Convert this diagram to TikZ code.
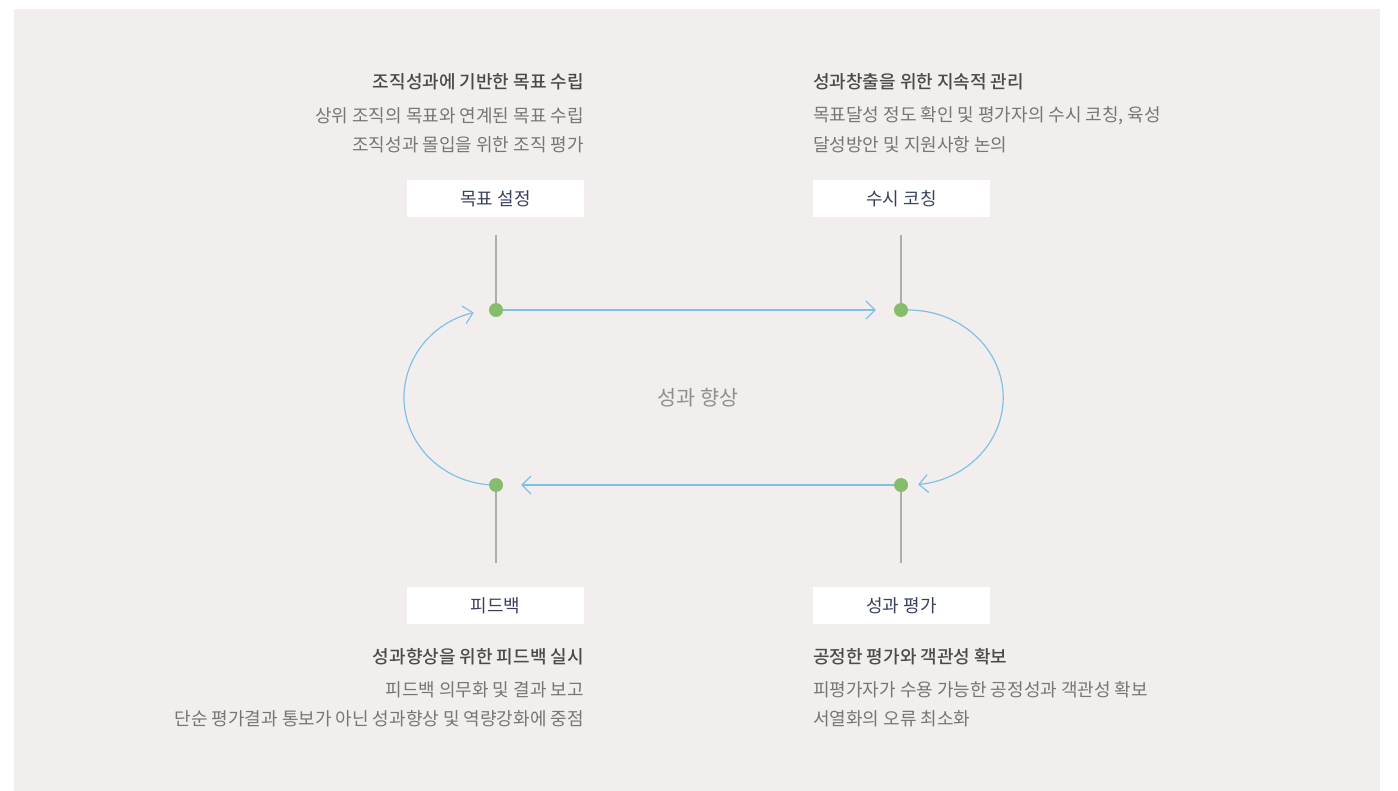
\documentclass[tikz,border=0pt]{standalone}
\usepackage{fontspec}
\newfontfamily\kr{Noto Sans CJK KR}
\newfontfamily\krmed{Noto Sans CJK KR Medium}
\usetikzlibrary{arrows.meta}
\definecolor{bgc}{HTML}{F2EEED}
\definecolor{headgray}{HTML}{4A4A4A}
\definecolor{bodygray}{HTML}{767676}
\definecolor{navy}{HTML}{39415E}
\definecolor{dotgreen}{HTML}{86BC6C}
\definecolor{flowblue}{HTML}{7FC1E4}
\definecolor{stemgray}{HTML}{ADADAD}
\definecolor{centergray}{HTML}{8F8F8F}
\pgfdeclarelayer{bglayer}
\pgfdeclarelayer{lines}
\pgfsetlayers{bglayer,lines,main}
\begin{document}
\begin{tikzpicture}[x=1pt,y=-1pt,
  bodytxt/.style={inner sep=0pt, font=\kr\fontsize{18}{22}\selectfont, text=bodygray},
  headtxt/.style={inner sep=0pt, font=\krmed\fontsize{18}{22}\selectfont, text=headgray},
  stagebox/.style={fill=white, minimum width=177pt, minimum height=37pt, inner sep=0pt, font=\kr\fontsize{18}{22}\selectfont, text=navy},
  greendot/.style={circle, fill=dotgreen, minimum size=14pt, inner sep=0pt},
  stem/.style={draw=stemgray, line width=1.3pt},
  flow/.style={draw=flowblue, line width=1.2pt, -{Straight Barb[length=9pt,width=18pt,line width=1.2pt]}},
]
\useasboundingbox (0,0) rectangle (1398,791);
\begin{pgfonlayer}{bglayer}
\fill[bgc] (14,9) rectangle (1380,791);
\end{pgfonlayer}

% text blocks
\node[headtxt, anchor=east] (h1) at (584,82) {조직성과에 기반한 목표 수립};
\node[bodytxt, anchor=east] (a1) at (584,116) {상위 조직의 목표와 연계된 목표 수립};
\node[bodytxt, anchor=east] (a2) at (584,145) {조직성과 몰입을 위한 조직 평가};

\node[headtxt, anchor=west] (h2) at (813,82) {성과창출을 위한 지속적 관리};
\node[bodytxt, anchor=west] (b1) at (813,116) {목표달성 정도 확인 및 평가자의 수시 코칭, 육성};
\node[bodytxt, anchor=west] (b2) at (813,145) {달성방안 및 지원사항 논의};

\node[headtxt, anchor=east] (h3) at (584,657) {성과향상을 위한 피드백 실시};
\node[bodytxt, anchor=east] (c1) at (584,690) {피드백 의무화 및 결과 보고};
\node[bodytxt, anchor=east] (c2) at (584,719) {단순 평가결과 통보가 아닌 성과향상 및 역량강화에 중점};

\node[headtxt, anchor=west] (h4) at (813,657) {공정한 평가와 객관성 확보};
\node[bodytxt, anchor=west] (d1) at (813,690) {피평가자가 수용 가능한 공정성과 객관성 확보};
\node[bodytxt, anchor=west] (d2) at (813,719) {서열화의 오류 최소화};

% stage boxes
\node[stagebox] (goal) at (495.5,198.5) {목표 설정};
\node[stagebox] (coach) at (901.5,198.5) {수시 코칭};
\node[stagebox] (feedback) at (495.5,605.5) {피드백};
\node[stagebox] (evaluation) at (901.5,605.5) {성과 평가};

% center
\node[inner sep=0pt, font=\kr\fontsize{20.7}{25}\selectfont, text=centergray] (center) at (698,398) {성과 향상};

% dots
\node[greendot] (g1) at (496,310) {};
\node[greendot] (g2) at (901,310) {};
\node[greendot] (g3) at (496,485) {};
\node[greendot] (g4) at (901,485) {};

\coordinate (s1) at (496,235);
\coordinate (s2) at (901,235);
\coordinate (s3) at (496,563);
\coordinate (s4) at (901,563);

\begin{pgfonlayer}{lines}
\draw[stem] (s1) -- (g1.center);
\draw[stem] (s2) -- (g2.center);
\draw[stem] (s3) -- (g3.center);
\draw[stem] (s4) -- (g4.center);
\draw[flow, shorten >=18pt] (g1) -- (g2);
\draw[flow, shorten >=18pt] (g4) -- (g3);
\draw[flow] (g2.east) arc[start angle=-90, end angle=84, x radius=95, y radius=87.5];
\draw[flow] (g3.center) arc[start angle=90, end angle=256, x radius=92, y radius=87.5];
\end{pgfonlayer}
\end{tikzpicture}
\end{document}
